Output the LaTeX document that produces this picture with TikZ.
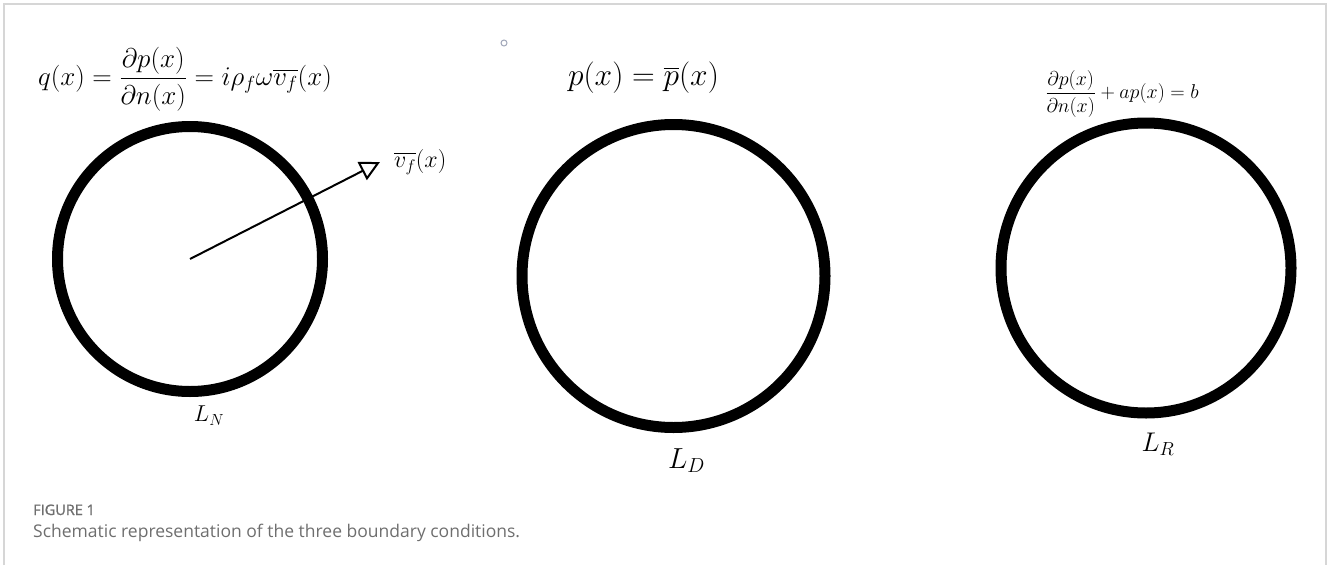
\RequirePackage{fix-cm}
\documentclass[tikz,border=0pt]{standalone}
\usepackage{amsmath}
\usepackage{fontspec}
\newfontfamily\capfont{Open Sans}
\newfontfamily\capsemi{Open Sans}[FakeBold=1.3]
\usetikzlibrary{arrows.meta,positioning}
\definecolor{framegray}{HTML}{D6D6D6}
\definecolor{capgray}{HTML}{6E6E6E}
\definecolor{dotgray}{HTML}{A0A6B8}
\tikzset{
  ring/.style={circle,draw=black,line width=11pt,minimum size=#1,inner sep=0pt},
  ring/.default=290pt,
  eqtext/.style={inner sep=0pt,font=\fontsize{#1}{#1}\selectfont},
  eqtext/.default=22,
  vecarrow/.style={-{Triangle[open,length=20pt,width=20pt,line width=2pt]},line width=2pt},
  captext/.style={anchor=base west,inner sep=0pt,text=capgray,font=\capfont\fontsize{#1}{#1}\selectfont},
  captext/.default=17.5
}

\begin{document}
\begin{tikzpicture}[x=1pt,y=-1pt]
\useasboundingbox (0,0) rectangle (1328,565);
\draw[framegray,line width=2pt] (4,565) -- (4,4) -- (1326,4) -- (1326,565);
% three boundaries
\node[ring=265pt] (nring) at (190,259) {};
\node[ring=303pt] (dring) at (673.5,276) {};
\node[ring=290pt] (rring) at (1146,268) {};
% boundary conditions
\node[eqtext=27,above=10pt of nring,xshift=-5pt] (nbc) {$q(x)=\dfrac{\partial p(x)}{\partial n(x)}=i\rho_f\omega\overline{v_f}(x)$};
\node[eqtext=31.5,above=25pt of dring,xshift=-30pt] (dbc) {$p(x)=\overline{p}(x)$};
\node[eqtext=20,above=0pt of rring,xshift=-24pt] (rbc) {$\dfrac{\partial p(x)}{\partial n(x)}+ap(x)=b$};
\node[circle,draw=dotgray,line width=1pt,minimum size=6pt,inner sep=0pt] (dot) at (504,43) {};
% velocity vector
\coordinate (vtip) at (380,162);
\draw[vecarrow] (nring.center) -- (vtip);
\node[eqtext=24,right=14pt of vtip] (vlab) {$\overline{v_f}(x)$};
% boundary names
\node[eqtext=23,below=9pt of nring,xshift=19pt] (nlab) {$L_N$};
\node[eqtext=29,below=15pt of dring,xshift=13pt] (dlab) {$L_D$};
\node[eqtext=27,below=14pt of rring,xshift=12pt] (rlab) {$L_R$};
% caption
\node[captext=14.5,font=\capsemi\fontsize{14.5}{14.5}\selectfont] (figno) at (33,515) {FIGURE 1};
\node[captext] (figcap) at (33,537) {Schematic representation of the three boundary conditions.};
\end{tikzpicture}
\end{document}
